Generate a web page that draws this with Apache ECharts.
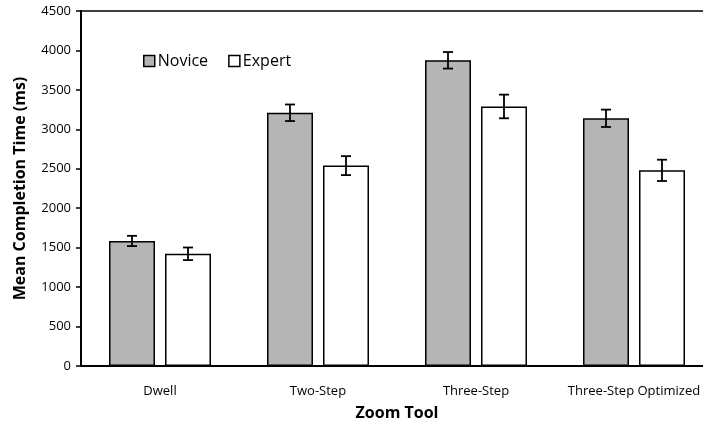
<!DOCTYPE html>
<html><head><meta charset="utf-8">
<script src="https://cdn.jsdelivr.net/npm/echarts@6/dist/echarts.min.js"></script>
<style>html,body{margin:0;padding:0;background:#fff;overflow:hidden}#c{width:713px;height:421px}</style>
</head><body><div id="c"></div>
<script>
const categories = ['Dwell', 'Two-Step', 'Three-Step', 'Three-Step Optimized'];
const noviceMean = [1585, 3210, 3875, 3140];
const noviceErr = [65, 105, 105, 110];
const expertMean = [1422, 2540, 3290, 2480];
const expertErr = [80, 120, 150, 135];
const yTicks = [0, 500, 1000, 1500, 2000, 2500, 3000, 3500, 4000, 4500];

const BAR_W = 46, GAP = 10;
const font = '"Open Sans", "Liberation Sans", sans-serif';

function errSeries(name, means, errs, sign) {
  const data = means.map((m, i) => [i, m, errs[i]]);
  return {
    type: 'custom', name: name + ' err', silent: true, z: 10,
    data,
    renderItem(params, api) {
      const i = api.value(0), m = api.value(1), e = api.value(2);
      const off = sign * (BAR_W + GAP) / 2;
      const hi = api.coord([i, m + e]);
      const lo = api.coord([i, m - e]);
      const x = hi[0] + off;
      const cap = 5;
      const st = { stroke: '#000', lineWidth: 1.8 };
      return { type: 'group', children: [
        { type: 'line', shape: { x1: x, y1: hi[1], x2: x, y2: lo[1] }, style: st },
        { type: 'line', shape: { x1: x - cap, y1: hi[1], x2: x + cap, y2: hi[1] }, style: st },
        { type: 'line', shape: { x1: x - cap, y1: lo[1], x2: x + cap, y2: lo[1] }, style: st }
      ]};
    }
  };
}

const chart = echarts.init(document.getElementById('c'), null, { renderer: 'canvas' });
chart.setOption({
  animation: false,
  backgroundColor: '#fff',
  textStyle: { fontFamily: font },
  grid: { left: 81, right: 0, top: 11, bottom: 55, outerBoundsMode: 'none', containLabel: false,
    show: true, borderColor: '#000', borderWidth: 1.5, backgroundColor: 'transparent' },
  legend: {
    left: 138, top: 48, itemWidth: 11, itemHeight: 11, itemGap: 20,
    textStyle: { fontFamily: font, fontSize: 16, color: '#000', padding: [0, 0, 0, -2] },
    data: [
      { name: 'Novice', icon: 'rect', itemStyle: { color: '#b5b5b5', borderColor: '#000', borderWidth: 1.5 } },
      { name: 'Expert', icon: 'rect', itemStyle: { color: '#fff', borderColor: '#000', borderWidth: 1.5 } }
    ]
  },
  xAxis: {
    type: 'category', data: categories,
    name: 'Zoom Tool', nameLocation: 'middle', nameGap: 39,
    nameTextStyle: { fontFamily: font, fontSize: 16, fontWeight: 'bold', color: '#000' },
    axisLine: { lineStyle: { color: '#000', width: 2 } },
    axisTick: { show: false },
    axisLabel: { color: '#000', fontSize: 13, margin: 19, fontFamily: font, interval: 0 }
  },
  yAxis: {
    type: 'value', min: 0, max: 4500, interval: 500,
    name: 'Mean Completion Time (ms)', nameLocation: 'middle', nameGap: 53,
    nameTextStyle: { fontFamily: font, fontSize: 16, fontWeight: 'bold', color: '#000' },
    axisLine: { show: true, lineStyle: { color: '#000', width: 2 } },
    axisTick: { show: true, length: 5, lineStyle: { color: '#000', width: 1.5 } },
    splitLine: { show: false },
    axisLabel: { color: '#000', fontSize: 13, margin: 10, fontFamily: font,
      formatter: v => yTicks.includes(v) ? String(v) : '' }
  },
  series: [
    { name: 'Novice', type: 'bar', data: noviceMean, barWidth: BAR_W, barGap: (GAP / BAR_W * 100) + '%',
      itemStyle: { color: '#b5b5b5', borderColor: '#000', borderWidth: 1.5 } },
    { name: 'Expert', type: 'bar', data: expertMean, barWidth: BAR_W,
      itemStyle: { color: '#fff', borderColor: '#000', borderWidth: 1.5 } },
    errSeries('Novice', noviceMean, noviceErr, -1),
    errSeries('Expert', expertMean, expertErr, 1)
  ]
});
</script></body></html>
